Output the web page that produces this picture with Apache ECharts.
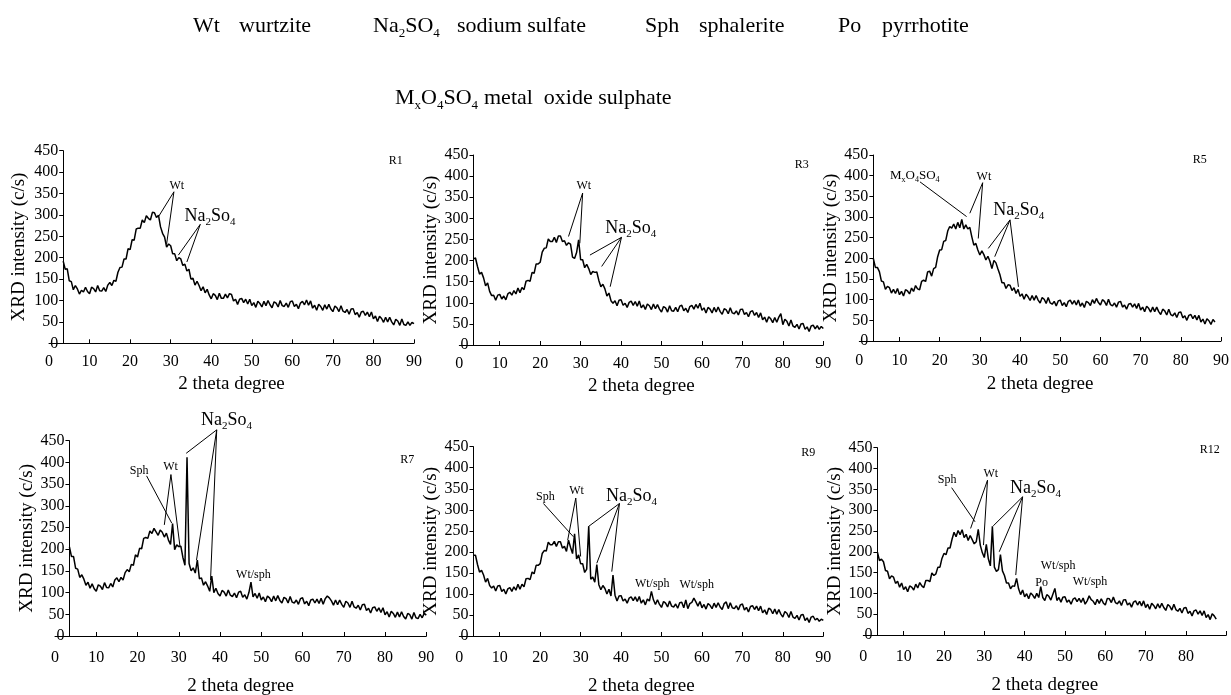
<!DOCTYPE html>
<html><head><meta charset="utf-8">
<script src="https://cdn.jsdelivr.net/npm/echarts@6/dist/echarts.min.js"></script>
<style>html,body{margin:0;padding:0;background:#fff}#c{width:1231px;height:695px}</style>
</head><body><div id="c"></div>
<script>
// ---------- DATA ----------
const X_START = 3.5, X_STEP = 0.5;          // 2-theta sampling of the scans
const xTickLabels = [0,10,20,30,40,50,60,70,80,90];
const yTickLabels = [0,50,100,150,200,250,300,350,400,450];
const panelNames = ['R1','R3','R5','R7','R9','R12'];

const R1 = [
192,173,174,146,144,125,135,127,115,124,
120,131,121,116,131,128,120,135,123,122,
130,121,136,142,135,147,145,166,177,178,
197,197,221,219,242,241,267,269,269,288,
282,298,292,288,306,305,294,299,272,257,
248,225,232,228,209,209,193,200,197,182,
185,169,173,150,152,136,145,135,123,132,
118,126,113,104,116,112,102,117,105,105,
115,106,116,114,99,103,91,103,105,95,
103,92,103,88,95,84,98,93,85,98,
88,100,90,83,97,94,85,100,88,86,
94,84,97,99,86,91,81,94,98,90,
101,89,99,82,89,77,91,86,77,90,
80,91,80,74,87,83,74,88,75,72,
79,68,80,81,67,72,61,73,75,65,
73,62,73,57,64,51,63,58,49,61,
50,61,50,43,56,52,42,57,44,42,
50,42,49,46];

const R3 = [
204,206,186,168,172,159,140,147,127,117,
118,106,118,120,109,116,107,121,125,118,
129,121,135,124,136,131,151,153,151,172,
170,192,192,196,220,229,230,251,245,245,
255,243,258,258,245,247,236,242,239,208,
205,219,249,202,202,183,191,181,167,174,
172,173,153,138,144,133,116,123,105,99,
105,93,106,107,94,99,89,101,104,94,
103,92,104,88,95,84,97,93,84,97,
86,96,85,78,91,88,78,93,81,80,
89,79,92,94,81,87,77,91,94,85,
96,87,99,82,88,76,89,85,76,89,
78,90,79,73,86,83,74,88,76,74,
81,71,84,85,72,77,67,79,81,70,
77,65,76,60,66,54,67,62,53,65,
54,66,74,48,61,56,45,59,45,42,
49,38,50,51,37,43,32,45,47,38,
46,37,44,39];

const R5 = [
199,178,178,168,145,143,125,132,129,116,
125,115,127,112,120,109,124,121,114,128,
120,134,126,124,144,147,144,167,169,157,
175,178,204,220,221,241,243,266,277,273,
283,271,287,274,294,271,281,271,275,252,
232,236,220,208,218,209,196,205,193,175,
195,189,174,160,141,141,127,136,135,122,
129,115,125,108,114,101,113,107,98,110,
99,110,99,92,105,101,91,105,92,89,
96,85,97,99,86,93,83,96,99,89,
98,87,99,84,92,81,96,93,86,100,
91,103,93,87,100,96,86,101,88,85,
92,82,94,96,82,87,77,89,91,82,
90,79,91,75,82,71,84,79,70,82,
71,82,71,64,77,73,63,77,64,61,
68,57,69,70,56,61,50,62,64,54,
62,51,62,46,53,41,54,49,40,52,
46];

const R7 = [
205,183,183,156,154,135,141,131,117,124,
110,120,109,103,118,115,107,123,112,111,
121,113,129,134,125,135,129,146,153,148,
165,163,187,182,202,201,225,227,225,242,
236,248,240,232,244,239,228,237,221,211,
259,199,210,206,207,181,163,412,167,150,
157,145,175,132,134,117,125,115,103,138,
100,110,98,92,105,101,92,106,94,91,
99,88,101,103,89,95,85,100,124,90,
98,87,99,83,90,79,92,88,79,92,
81,93,82,76,89,86,76,91,78,76,
83,73,86,88,74,80,70,83,85,76,
85,75,87,73,86,92,88,81,71,83,
72,83,73,66,80,76,66,80,67,64,
71,60,72,73,59,64,53,65,67,57,
65,54,65,49,56,44,57,52,43,55,
44,56,45,39,52,49,39,54,42,40,
50,42,52,48];

const R9 = [
192,192,170,152,156,145,128,137,120,114,
119,107,119,120,106,111,100,112,115,106,
117,109,123,111,123,117,136,137,134,152,
148,168,168,172,196,203,202,223,217,217,
225,213,224,224,209,213,201,228,211,196,
243,183,193,172,172,151,159,261,135,140,
128,170,122,110,120,113,100,111,95,145,
97,83,95,96,83,88,78,90,93,84,
93,82,94,78,86,74,88,83,106,86,
75,86,75,68,82,78,69,83,71,69,
76,66,79,80,67,86,65,77,80,90,
81,71,82,67,75,64,77,73,65,78,
68,79,69,63,77,81,65,79,67,65,
72,62,74,76,62,68,57,70,72,63,
71,60,71,55,62,51,66,63,53,64,
52,63,52,45,58,54,44,58,45,42,
49,38,50,51,37,43,32,45,47,38,
42,35,40,37];

const R12 = [
199,179,182,176,155,153,135,142,139,124,
129,115,125,109,116,104,118,115,108,122,
113,126,118,114,131,131,128,149,143,147,
163,163,184,196,193,209,209,230,247,236,
251,241,253,234,242,227,239,229,219,224,
254,216,198,186,218,183,166,261,163,153,
157,193,154,143,125,125,111,118,117,136,
111,97,108,92,99,87,101,96,88,100,
90,116,90,83,97,93,84,98,112,83,
90,79,91,92,79,84,74,86,89,80,
88,78,89,74,82,94,85,81,73,86,
76,87,77,72,88,87,78,91,78,75,
82,71,84,85,72,77,67,79,82,72,
81,70,82,66,74,62,76,71,63,75,
65,76,66,59,73,69,60,74,61,57,
64,53,65,66,52,57,46,58,60,50,
58,47,58,42,49,37,51,46,38];

const seriesValues = [R1, R3, R5, R7, R9, R12];

// peak annotations: label text, label anchor [2theta, intensity], leader lines to peaks
const annotations = [
 [ {t:'Wt', at:[31.5,368], f:12, lines:[[[30.8,354],[27.0,296]],[[30.8,354],[29.0,232]]]},
   {t:'Na_2So_4', at:[39.7,297], f:18, lines:[[[37.3,278],[31.9,206]],[[37.3,278],[34.0,190]]]},
   {t:'R1', at:[85.5,427], f:12} ],
 [ {t:'Wt', at:[30.8,377], f:12, lines:[[[30.5,360],[27.0,257]],[[30.5,360],[29.8,241]]]},
   {t:'Na_2So_4', at:[42.4,276], f:18, lines:[[[40.1,255],[32.3,213]],[[40.1,255],[35.2,186]],[[40.1,255],[37.3,138]]]},
   {t:'R3', at:[84.7,426], f:12} ],
 [ {t:'M_xO_4SO_4', at:[13.8,400], f:13, lines:[[[15.1,385],[26.7,301]]]},
   {t:'Wt', at:[31.0,396], f:12, lines:[[[30.7,383],[27.5,309]],[[30.7,383],[29.6,248]]]},
   {t:'Na_2So_4', at:[39.7,317], f:18, lines:[[[37.5,293],[32.1,224]],[[37.5,293],[33.7,204]],[[37.5,293],[39.6,131]]]},
   {t:'R5', at:[84.7,438], f:12} ],
 [ {t:'Na_2So_4', at:[41.6,498], f:18, lines:[[[39.2,475],[31.8,421]],[[39.2,475],[34.3,175]],[[39.2,475],[37.7,129]]]},
   {t:'Sph', at:[20.4,381], f:12, lines:[[[22.2,369],[28.3,260]]]},
   {t:'Wt', at:[28.0,389], f:12, lines:[[[28.1,372],[26.5,256]],[[28.1,372],[30.3,206]]]},
   {t:'Wt/sph', at:[48.1,140], f:12},
   {t:'R7', at:[85.4,405], f:12} ],
 [ {t:'Sph', at:[21.3,330], f:12, lines:[[[20.8,315],[28.2,236]]]},
   {t:'Wt', at:[29.0,345], f:12, lines:[[[28.8,328],[26.8,228]],[[28.8,328],[30.0,189]]]},
   {t:'Na_2So_4', at:[42.6,333], f:18, lines:[[[39.6,315],[31.9,260]],[[39.6,315],[34.0,173]],[[39.6,315],[37.7,153]]]},
   {t:'Wt/sph', at:[47.7,124], f:12},
   {t:'Wt/sph', at:[58.7,122], f:12},
   {t:'R9', at:[86.3,436], f:12} ],
 [ {t:'Sph', at:[20.8,372], f:12, lines:[[[21.9,354],[27.7,272]]]},
   {t:'Wt', at:[31.6,388], f:12, lines:[[[30.8,372],[26.6,256]],[[30.8,372],[29.8,216]]]},
   {t:'Na_2So_4', at:[42.7,352], f:18, lines:[[[39.5,332],[32.2,262]],[[39.5,332],[33.7,200]],[[39.5,332],[37.8,144]]]},
   {t:'Po', at:[44.2,126], f:12},
   {t:'Wt/sph', at:[48.3,167], f:12},
   {t:'Wt/sph', at:[56.2,127], f:12},
   {t:'R12', at:[85.9,444], f:12} ]
];

const legendLine1 = [['Wt','wurtzite'],['Na_2SO_4','sodium sulfate'],['Sph','sphalerite'],['Po','pyrrhotite']];
const legendLine2 = [['M_xO_4SO_4','metal  oxide sulphate']];
const xTitle = '2 theta degree';
const yTitle = 'XRD intensity (c/s)';

// ---------- LAYOUT ----------
const FONT = 'Liberation Serif';
const L = [
 {x0:49,    x90:414,    top:150.7, zero:343.3, lm:10, ng:31, yg:35},
 {x0:459.3, x90:823.3,  top:155,   zero:345,   lm:11, ng:32, yg:33},
 {x0:859.3, x90:1221,   top:155,   zero:341,   lm:12, ng:34, yg:32},
 {x0:55,    x90:426.3,  top:440.7, zero:636,   lm:14, ng:41, yg:32},
 {x0:459.3, x90:823.3,  top:446.7, zero:636,   lm:14, ng:41, yg:32},
 {x0:863.3, x90:1226.3, top:447.7, zero:635,   lm:14, ng:41, yg:33}
];
const legendPos1 = [[193,239],[373,457],[645,699],[838,882]];
const legendPos2 = [[395,484]];
const LEG_Y1 = 26, LEG_Y2 = 98, LEG_F = 22;

function richText(str, size) {
  const sub = Math.round(size * 0.6);
  const parts = []; const re = /_(.)/g; let last = 0, m;
  while ((m = re.exec(str))) {
    if (m.index > last) parts.push('{n|' + str.slice(last, m.index) + '}');
    parts.push('{s|' + m[1] + '}'); last = re.lastIndex;
  }
  if (last < str.length) parts.push('{n|' + str.slice(last) + '}');
  return { text: parts.join(''), rich: {
    n: {fontSize: size, fontFamily: FONT, lineHeight: Math.round(size * 1.3), fill: '#000'},
    s: {fontSize: sub, fontFamily: FONT, lineHeight: sub, verticalAlign: 'bottom', fill: '#000'} } };
}

const chart = echarts.init(document.getElementById('c'), null, {renderer: 'canvas'});
const grid = [], xAxis = [], yAxis = [], series = [];
L.forEach((p, i) => {
  const w = p.x90 - p.x0;
  grid.push({left: p.x0, top: p.top, width: w, height: p.zero - p.top,
             containLabel: false, outerBoundsMode: 'none'});
  const shownLabels = i === 5 ? xTickLabels.slice(0, -1) : xTickLabels;
  xAxis.push({
    type: 'value', gridIndex: i, min: xTickLabels[0], max: xTickLabels[xTickLabels.length - 1], interval: 10,
    axisLine: {show: true, onZero: false, lineStyle: {color: '#000', width: 1}},
    axisTick: {show: true, inside: true, length: 4, lineStyle: {color: '#000'}, customValues: xTickLabels.slice(1)},
    axisLabel: {color: '#000', fontFamily: FONT, fontSize: 16, margin: p.lm, customValues: shownLabels},
    splitLine: {show: false},
    name: xTitle, nameLocation: 'middle', nameGap: p.ng,
    nameTextStyle: {color: '#000', fontFamily: FONT, fontSize: 19}
  });
  yAxis.push({
    type: 'value', gridIndex: i, min: yTickLabels[0], max: yTickLabels[yTickLabels.length - 1], interval: 50,
    offset: -(X_START * w / 90),
    axisLine: {show: true, onZero: false, lineStyle: {color: '#000', width: 1}},
    axisTick: {show: true, inside: false, length: 4, lineStyle: {color: '#000'}},
    axisLabel: {color: '#000', fontFamily: FONT, fontSize: 16, margin: 5},
    splitLine: {show: false},
    name: yTitle, nameLocation: 'middle', nameGap: p.yg,
    nameTextStyle: {color: '#000', fontFamily: FONT, fontSize: 19}
  });
  series.push({
    type: 'line', name: panelNames[i], xAxisIndex: i, yAxisIndex: i,
    data: seriesValues[i].map((v, k) => [X_START + k * X_STEP, v]),
    symbol: 'none', showSymbol: false, silent: true,
    lineStyle: {color: '#000', width: 1.5}
  });
});

chart.setOption({animation: false, backgroundColor: '#fff', grid, xAxis, yAxis, series});

// ---------- annotations & header ----------
const g = [];
function textEl(str, size, x, y, align) {
  const r = richText(str, size);
  return {type: 'text', x, y, silent: true, z: 10,
    style: {text: r.text, rich: r.rich, fontFamily: FONT, fontSize: size, fill: '#000',
            align: align, verticalAlign: 'middle'}};
}
annotations.forEach((list, i) => {
  list.forEach(a => {
    const pt = chart.convertToPixel({xAxisIndex: i, yAxisIndex: i}, a.at);
    g.push(textEl(a.t, a.f, pt[0], pt[1], 'center'));
    (a.lines || []).forEach(ln => {
      const p1 = chart.convertToPixel({xAxisIndex: i, yAxisIndex: i}, ln[0]);
      const p2 = chart.convertToPixel({xAxisIndex: i, yAxisIndex: i}, ln[1]);
      g.push({type: 'line', silent: true, z: 10,
        shape: {x1: p1[0], y1: p1[1], x2: p2[0], y2: p2[1]},
        style: {stroke: '#000', lineWidth: 1}});
    });
  });
});
legendLine1.forEach((item, k) => {
  g.push(textEl(item[0], LEG_F, legendPos1[k][0], LEG_Y1, 'left'));
  g.push(textEl(item[1], LEG_F, legendPos1[k][1], LEG_Y1, 'left'));
});
legendLine2.forEach((item, k) => {
  g.push(textEl(item[0], LEG_F, legendPos2[k][0], LEG_Y2, 'left'));
  g.push(textEl(item[1], LEG_F, legendPos2[k][1], LEG_Y2, 'left'));
});
chart.setOption({graphic: g});
</script></body></html>
